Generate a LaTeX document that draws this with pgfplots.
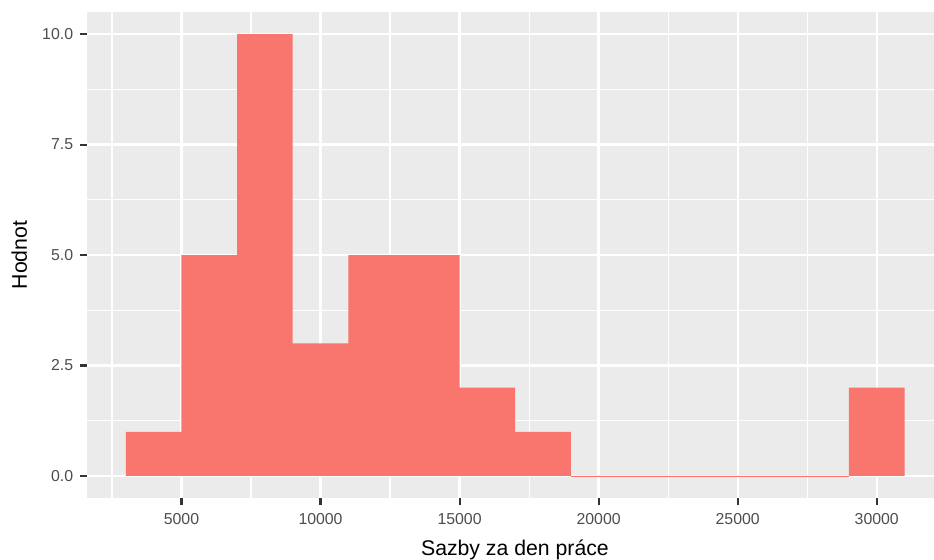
\documentclass[border=0pt]{standalone}
\usepackage{pgfplots}
\pgfplotsset{compat=1.18}
\usepackage{fontspec}
\setmainfont{Liberation Sans}
\definecolor{panelgray}{HTML}{EBEBEB}
\definecolor{histred}{HTML}{F8766D}
\definecolor{ticklab}{HTML}{4D4D4D}
\definecolor{tickcol}{HTML}{333333}
\begin{document}
\begin{tikzpicture}
\begin{axis}[
  scale only axis,
  width=470.6pt, height=270pt,
  xmin=1600, xmax=32060,
  ymin=-0.5, ymax=10.5,
  axis background/.style={fill=panelgray},
  axis line style={draw=none},
  xtick={5000,10000,15000,20000,25000,30000},
  minor xtick={2500,7500,12500,17500,22500,27500,32500},
  ytick={0,2.5,5,7.5,10},
  yticklabels={0.0,2.5,5.0,7.5,10.0},
  minor ytick={1.25,3.75,6.25,8.75},
  scaled x ticks=false,
  xticklabel={\pgfmathprintnumber[fixed,1000 sep={}]{\tick}},
  grid=both,
  major grid style={white, line width=1.3pt},
  minor grid style={white, line width=0.65pt},
  tick align=outside,
  xtick pos=lower, ytick pos=left,
  major tick length=3.9pt,
  minor tick length=0pt,
  major tick style={tickcol, line width=1.2pt},
  tick label style={font=\fontsize{8.8pt}{10pt}\selectfont, text=ticklab},
  /pgf/number format/assume math mode=true,
  xticklabel style={anchor=north, inner sep=0pt, yshift=-4.2pt},
  yticklabel style={anchor=east, inner sep=0pt, xshift=-3.6pt},
  xlabel={Sazby za den práce},
  ylabel={Hodnot},
  label style={font=\fontsize{11.8pt}{14pt}\selectfont, text=black},
  xlabel style={at={(axis description cs:0.5053,0)}, anchor=base, yshift=-31.7pt, inner sep=0pt},
  ylabel style={at={(axis description cs:0,0.5)}, anchor=center, yshift=37.6pt, inner sep=0pt},
  clip=true,
]
\addplot[ybar interval, fill=histred, draw=none] coordinates {
  (3000,1) (5000,5) (7000,10) (9000,3) (11000,5) (13000,5) (15000,2) (17000,1)
  (19000,0) (21000,0) (23000,0) (25000,0) (27000,0) (29000,2) (31000,2)
};
\addplot[histred, line width=0.5pt] coordinates {(19000,0) (29000,0)};
\coordinate (sw) at (rel axis cs:0,0);
\coordinate (ne) at (rel axis cs:1,1);
\end{axis}
\pgfresetboundingbox
\path[use as bounding box] ([xshift=-48.3pt,yshift=-33.9pt]sw) rectangle ([yshift=6.7pt]ne);
\end{tikzpicture}
\end{document}
